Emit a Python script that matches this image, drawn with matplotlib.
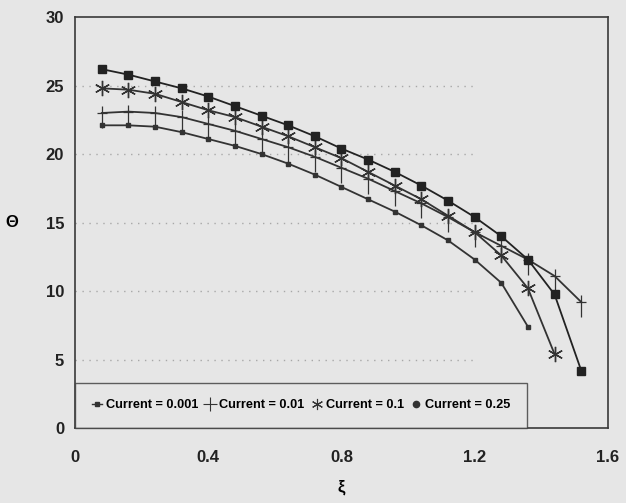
import numpy as np
import matplotlib
matplotlib.use("Agg")
import matplotlib.pyplot as plt
from matplotlib.path import Path

xi = [0.08, 0.16, 0.24, 0.32, 0.40, 0.48, 0.56, 0.64, 0.72, 0.80,
      0.88, 0.96, 1.04, 1.12, 1.20, 1.28, 1.36, 1.44, 1.52]

theta_001 = [22.1, 22.1, 22.0, 21.6, 21.1, 20.6, 20.0, 19.3, 18.5, 17.6,
             16.7, 15.8, 14.8, 13.7, 12.3, 10.6, 7.4]
theta_01 = [23.0, 23.1, 23.0, 22.7, 22.2, 21.7, 21.1, 20.5, 19.8, 19.0,
            18.2, 17.3, 16.4, 15.4, 14.3, 13.3, 12.3, 11.1, 9.2]
theta_1 = [24.8, 24.7, 24.4, 23.8, 23.2, 22.7, 22.0, 21.3, 20.5, 19.7,
           18.7, 17.7, 16.7, 15.5, 14.3, 12.6, 10.2, 5.4]
theta_25 = [26.2, 25.8, 25.3, 24.8, 24.2, 23.5, 22.8, 22.1, 21.3, 20.4,
            19.6, 18.7, 17.7, 16.6, 15.4, 14.0, 12.3, 9.75, 4.2]

labels = ["Current = 0.001", "Current = 0.01", "Current = 0.1", "Current = 0.25"]
xticks = [0, 0.4, 0.8, 1.2, 1.6]
yticks = [0, 5, 10, 15, 20, 25, 30]

# tall plus, like the scanned plot
tall_plus = Path([(-0.35, 0), (0.35, 0), (0, 0.45), (0, -1.0)],
                 [Path.MOVETO, Path.LINETO, Path.MOVETO, Path.LINETO])

bg = "#e6e6e6"
ink = "#333333"
plt.rcParams["font.family"] = ["Liberation Sans", "DejaVu Sans"]

fig = plt.figure(figsize=(6.26, 5.03), dpi=100, facecolor=bg)
ax = fig.add_axes([0.12, 0.149, 0.851, 0.817], facecolor=bg)

for yv in yticks[1:-1]:
    ax.axhline(yv, xmin=0, xmax=0.75, color="#a8a8a8", lw=1.0,
               ls=(0, (1, 4)), zorder=0)

ax.plot(xi[:len(theta_001)], theta_001, color=ink, lw=1.3, marker="s",
        ms=3, label=labels[0])
ax.plot(xi[:len(theta_01)], theta_01, color=ink, lw=1.3, marker=tall_plus,
        ms=22, mew=0.9, label=labels[1])
ax.plot(xi[:len(theta_1)], theta_1, color=ink, lw=1.3, marker=(6, 2, 0),
        ms=11, mew=1.0, label=labels[2])
ax.plot(xi[:len(theta_25)], theta_25, color="#222222", lw=1.3, marker="s",
        ms=6, label=labels[3])

ax.set_xlim(0, 1.6)
ax.set_ylim(0, 30)
ax.set_xticks(xticks)
ax.set_xticklabels(["0", "0.4", "0.8", "1.2", "1.6"])
ax.set_yticks(yticks)
ax.tick_params(length=0, labelsize=12, pad=8, colors="#222222")
ax.tick_params(axis="x", pad=16)
for lab in ax.get_xticklabels() + ax.get_yticklabels():
    lab.set_fontweight("bold")
for sp in ax.spines.values():
    sp.set_color("#3a3a3a")
    sp.set_linewidth(1.2)

ax.set_xlabel("ξ", fontsize=12, fontweight="bold", labelpad=10)
ax.set_ylabel("Θ", fontsize=12, fontweight="bold", rotation=0,
              labelpad=24, va="center")

# legend handles with smaller markers
handles = [
    plt.Line2D([], [], color=ink, lw=1.0, marker="s", ms=2.5),
    plt.Line2D([], [], color=ink, lw=0, marker="+", ms=10, mew=0.8),
    plt.Line2D([], [], color=ink, lw=0, marker=(6, 2, 0), ms=8, mew=0.8),
    plt.Line2D([], [], color=ink, lw=0, marker="o", ms=4.5),
]
leg = ax.legend(handles, labels, loc="lower left", ncol=4,
                bbox_to_anchor=(0, 0),
                prop={"size": 9.2, "weight": "bold"}, handlelength=0.8,
                handletextpad=0.3, columnspacing=0.55, borderaxespad=0,
                frameon=True, fancybox=False, borderpad=1.3)
leg.get_frame().set_edgecolor("#3a3a3a")
leg.get_frame().set_facecolor(bg)
leg.get_frame().set_linewidth(1.0)

fig.savefig("out.png", dpi=100, facecolor=bg)
